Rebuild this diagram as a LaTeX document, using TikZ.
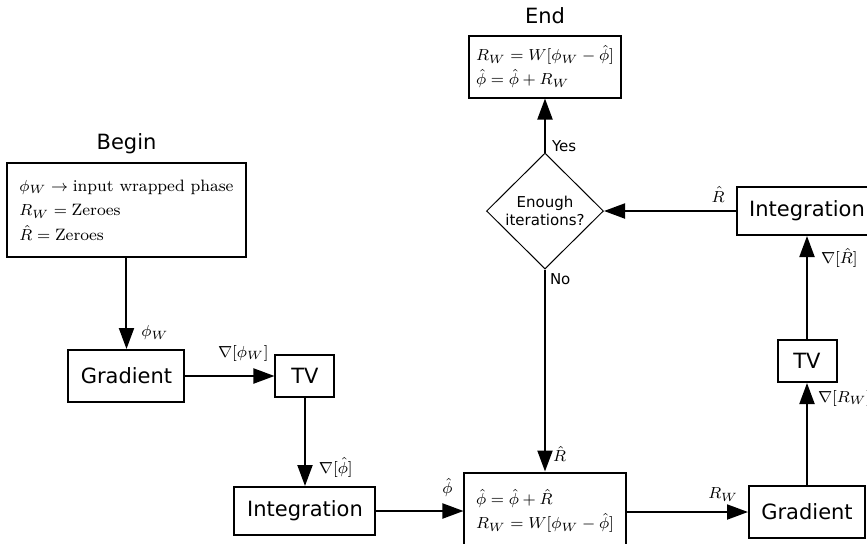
\documentclass[tikz,border=0pt]{standalone}
\usepackage{fontspec}
\setsansfont{DejaVu Sans}
\usepackage{amsmath}
\usetikzlibrary{
  arrows.meta,
  positioning,
  shapes.geometric
}
\tikzset{
  block/.style={
    draw,
    line width=1pt,
    inner sep=0pt,
    align=center,
    font=\sffamily\fontsize{10.5}{12.5}\selectfont
  },
  gradblock/.style={block, minimum width=58pt, minimum height=26pt},
  tvblock/.style={block, minimum width=29.5pt, minimum height=21pt},
  intblock/.style={block, minimum width=70.5pt, minimum height=24pt},
  mathblock/.style={
    draw,
    line width=1pt,
    align=left,
    inner sep=0pt,
    font=\fontsize{8.25}{12.3}\selectfont
  },
  decision/.style={
    diamond,
    draw,
    line width=0.5pt,
    aspect=1,
    minimum width=58.5pt,
    minimum height=58pt,
    inner sep=0pt,
    align=center,
    font=\sffamily\fontsize{7.5}{9}\selectfont
  },
  title/.style={inner sep=0pt, font=\sffamily\fontsize{10.5}{12.5}\selectfont},
  arrow/.style={-{Triangle[length=10.5pt, width=7.5pt]}, line width=1pt},
  lbl/.style={inner sep=0pt, font=\fontsize{8}{10}\selectfont},
  flag/.style={inner sep=0pt, font=\sffamily\fontsize{7.5}{9}\selectfont}
}

\begin{document}
\begin{tikzpicture}
  \useasboundingbox (-272.5pt,-166pt) rectangle (161pt,105.5pt);

  % loop test in the middle
  \node[decision] (check) {Enough\\iterations?};
  \node[mathblock, minimum width=76pt, minimum height=31pt,
    above=27pt of check] (finish)
    {$R_W = W[\phi_W - \hat{\phi}]$\\$\hat{\phi} = \hat{\phi} + R_W$};
  \node[title, above=5.5pt of finish, anchor=base] (endtitle) {End};

  \node[mathblock, minimum width=80.5pt, minimum height=38.5pt,
    below=101pt of check] (update)
    {$\hat{\phi} = \hat{\phi} + \hat{R}$\\$R_W = W[\phi_W - \hat{\phi}]$};

  % left branch
  \node[intblock, left=43.5pt of update] (integ1) {Integration};
  \node[tvblock, above=44pt of integ1] (tv1) {TV};
  \node[gradblock, left=44.5pt of tv1] (grad1) {Gradient};
  \node[mathblock, minimum width=119.5pt, minimum height=47pt,
    above=45.5pt of grad1] (init)
    {$\phi_W \rightarrow \mathrm{input\ wrapped\ phase}$\\
     $R_W = \mathrm{Zeroes}$\\$\hat{R} = \mathrm{Zeroes}$};
  \node[title, above=6.5pt of init, anchor=base] (begintitle) {Begin};

  % right branch
  \node[intblock, right=65.75pt of check] (integ2) {Integration};
  \node[tvblock, below=51.5pt of integ2] (tv2) {TV};
  \node[gradblock, below=51pt of tv2] (grad2) {Gradient};

  \draw[arrow] (init) -- node[lbl, pos=1, above right=4pt and 7pt] {$\phi_W$} (grad1);
  \draw[arrow] (grad1) -- node[lbl, pos=1, above left=7pt and 2.5pt] {$\nabla[\phi_W]$} (tv1);
  \draw[arrow] (tv1) -- node[lbl, pos=1, above right=4pt and 6.5pt] {$\nabla[\hat{\phi}]$} (integ1);
  \draw[arrow] (integ1) -- node[lbl, pos=1, above left=6.5pt and 5pt] {$\hat{\phi}$} (update);
  \draw[arrow] (check) --
    node[flag, pos=0, below right=1.5pt and 2pt] {No}
    node[lbl, pos=1, above right=4.5pt and 3.5pt] {$\hat{R}$} (update);
  \draw[arrow] (update.east |- grad2) -- node[lbl, pos=1, above left=5pt and 4.5pt] {$R_W$} (grad2);
  \draw[arrow] (grad2) -- node[lbl, pos=1, below right=3pt and 5pt] {$\nabla[R_W]$} (tv2);
  \draw[arrow] (tv2) -- node[lbl, pos=1, below right=5.5pt and 6.5pt] {$\nabla[\hat{R}]$} (integ2);
  \draw[arrow] (integ2) -- node[lbl, pos=0, above left=4pt and 5pt] {$\hat{R}$} (check);
  \draw[arrow] (check) -- node[flag, pos=0, above right=0pt and 3pt] {Yes} (finish);
\end{tikzpicture}
\end{document}
